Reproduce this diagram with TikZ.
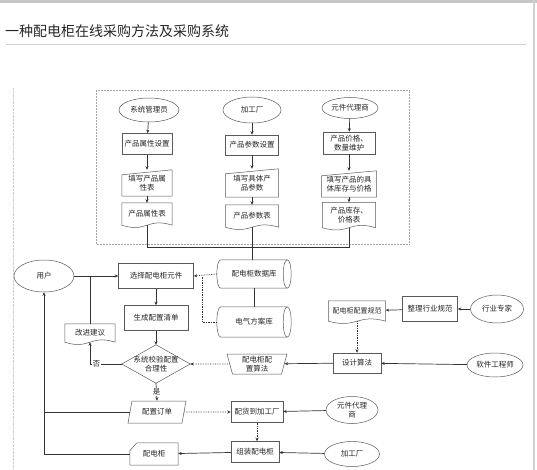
\documentclass[tikz,border=0pt]{standalone}
\usepackage{fontspec}
\setmainfont{Noto Sans CJK SC}
\usetikzlibrary{shapes.geometric,arrows.meta}

% outline helpers for the odd flowchart symbols
\newcommand{\wavedoc}[1]{\draw[shapeline] (#1.north west) -- (#1.north east) -- (#1.south east)
  .. controls ([yshift=8pt]#1.south) and ([yshift=-8pt]#1.south) .. (#1.south west) -- cycle;}
\newcommand{\slantdoc}[1]{\draw[shapeline] (#1.south west) -- ([yshift=-5pt]#1.north west)
  -- (#1.north east) -- (#1.south east) -- cycle;}
\newcommand{\cutcard}[1]{\draw[shapeline] (#1.south west) -- ([yshift=-8pt]#1.north west)
  -- ([xshift=7pt]#1.north west) -- (#1.north east) -- (#1.south east) -- cycle;}
\newcommand{\rhombus}[1]{\draw[shapeline] (#1.north) -- (#1.east) -- (#1.south) -- (#1.west) -- cycle;}
\newcommand{\drum}[1]{%
  \draw[shapeline] ([xshift=4pt]#1.north west) -- ([xshift=-4pt]#1.north east)
    .. controls ([xshift=1.3pt]#1.north east) and ([xshift=1.3pt]#1.south east) .. ([xshift=-4pt]#1.south east)
    -- ([xshift=4pt]#1.south west)
    .. controls ([xshift=-1.3pt]#1.south west) and ([xshift=-1.3pt]#1.north west) .. cycle;
  \draw[shapeline] ([xshift=-4pt]#1.north east)
    .. controls ([xshift=-9.3pt]#1.north east) and ([xshift=-9.3pt]#1.south east) .. ([xshift=-4pt]#1.south east);}

\tikzset{
  shapeline/.style={draw=black!65, line width=0.5pt},
  txt/.style={font=\fontsize{7.5}{9}\selectfont, text=black!85, align=center, inner sep=0pt},
  box/.style={txt, shapeline, minimum width=52pt, minimum height=21pt},
  paper/.style={txt, minimum width=52pt, minimum height=22pt},
  actor/.style={txt, shapeline, ellipse, minimum width=56pt, minimum height=24pt},
  drumnode/.style={txt, minimum width=74pt, minimum height=28pt},
  wire/.style={draw=black!80, line width=0.7pt},
  arr/.style={wire, ->},
  dotarr/.style={wire, densely dotted, ->},
  frame/.style={draw=black!35, densely dotted, line width=0.5pt},
}

\begin{document}
\begin{tikzpicture}[x=1pt, y=-1pt, >={Stealth[length=3.5pt,width=3pt]}]
  \useasboundingbox (0,0) rectangle (537,470);

  % page chrome
  \fill[black!22] (0,0) rectangle (537,3);
  \draw[black!18, line width=1.5pt] (534,0) -- (534,470);
  \node[anchor=west, font=\fontsize{14}{16}\selectfont, text=black!85, inner sep=0pt] (title) at (5,31) {一种配电柜在线采购方法及采购系统};
  \draw[black!18, line width=0.8pt] (6,44) -- (526,44);
  \draw[black!20, densely dotted] (13,88) -- (13,470);

  % upper block: product data entry
  \draw[frame] (96,90) rectangle (409,244);

  \node[actor, minimum width=60pt] (admin) at (149,110) {系统管理员};
  \node[box, minimum width=50pt] (attrset) at (147,144) {产品属性设置};
  \node[paper, minimum width=50pt, minimum height=26pt] (attrfill) at (147,183) {填写产品属\\性表};
  \node[paper, minimum width=50pt] (attrtab) at (147,214) {产品属性表};

  \node[actor, minimum width=58pt, minimum height=26pt] (plant) at (252,110) {加工厂};
  \node[box, minimum width=53pt, minimum height=20pt] (parset) at (252,145) {产品参数设置};
  \node[paper, minimum width=53pt, minimum height=28pt] (parfill) at (252,183) {填写具体产\\品参数};
  \node[paper, minimum width=53pt] (partab) at (252,216) {产品参数表};

  \node[actor, minimum height=21pt] (agent) at (350,108) {元件代理商};
  \node[box, minimum height=22pt] (priceset) at (349,143) {产品价格、\\数量维护};
  \node[paper, minimum width=55pt, minimum height=26pt] (pricefill) at (349,184) {填写产品的具\\体库存与价格};
  \node[paper, minimum width=53pt, minimum height=25pt] (pricetab) at (349,215) {产品库存、\\价格表};

  \slantdoc{attrfill} \slantdoc{parfill} \slantdoc{pricefill}
  \wavedoc{attrtab} \wavedoc{partab} \wavedoc{pricetab}

  \draw[arr] (admin) -- (attrset);
  \draw[arr] (attrset) -- (attrset |- attrfill.north);
  \draw[arr] (attrfill) -- (attrtab);
  \draw[arr] (plant) -- (parset);
  \draw[arr] (parset) -- (parfill);
  \draw[arr] (parfill) -- (partab);
  \draw[arr] (agent) -- (priceset);
  \draw[arr] (priceset) -- (pricefill);
  \draw[arr] (pricefill) -- (pricetab);

  % databases
  \node[drumnode] (db) at (254,274) {配电柜数据库};
  \node[drumnode, minimum height=30pt] (scheme) at (254,322) {电气方案库};
  \drum{db} \drum{scheme}
  \coordinate (merge) at (252,247);
  \draw[wire] (attrtab.south) |- (pricetab.south |- merge) -- (pricetab.south);
  \draw[wire] (partab.south) -- (partab.south |- db.north);
  \draw[wire] (db.south) -- (db.south |- scheme.north);

  % ordering loop
  \node[actor, minimum width=60pt, minimum height=32pt] (user) at (44,276) {用户};
  \node[box, minimum width=75pt, minimum height=25pt] (pick) at (156,276) {选择配电柜元件};
  \node[box, minimum width=64pt, minimum height=25pt] (list) at (156,318) {生成配置清单};
  \node[txt, minimum width=68pt, minimum height=38pt] (check) at (156,364) {系统校验配置\\合理性};
  \rhombus{check}
  \node[paper, minimum width=50pt, minimum height=18pt] (advice) at (90,333) {改进建议};
  \wavedoc{advice}
  \node[txt, shapeline, trapezium, trapezium left angle=60, trapezium right angle=120,
        trapezium stretches body, minimum width=58pt, minimum height=22pt] (order) at (157,412) {配置订单};
  \node[box, minimum height=21pt] (ship) at (257,412) {配货到加工厂};
  \node[box, minimum width=48pt] (build) at (255,452) {组装配电柜};
  \node[paper, minimum width=48pt, minimum height=22pt] (cabinet) at (154,454) {配电柜};
  \cutcard{cabinet}
  \node[actor, minimum width=52pt, minimum height=27pt] (agent2) at (352,410) {元件代理\\商};
  \node[actor, minimum width=55pt, minimum height=25pt] (plant2) at (352,454) {加工厂};

  \draw[arr] (user) -- (pick);
  \draw[arr] (pick) -- (list);
  \draw[arr] (list) -- (check.north);
  \draw[arr] (check.west) -| (advice.south) node[pos=0.4, fill=white, txt, inner sep=1pt] {否};
  \draw[wire] (advice.north) -- (advice.north |- pick.west);
  \draw[arr] (check.south) -- (order.north) node[midway, fill=white, txt, inner sep=1pt] {是};
  \draw[dotarr] (order) -- (ship);
  \draw[dotarr] (ship.south) -- (ship.south |- build.north);
  \draw[arr] (agent2) -- (ship);
  \draw[arr] (plant2) -- (build);
  \draw[arr] (build) -- (cabinet);
  \draw[arr] (cabinet.west) -| (user.south);
  \draw[wire] (order.west) -- (user.south |- order.west);

  % database feeds
  \coordinate (joint) at (202,276);
  \draw[dotarr] (db.west) -- (pick.east);
  \draw[wire, densely dotted] (scheme.west) -| (joint);

  % configuration rules
  \node[actor, minimum width=53pt, minimum height=28pt] (expert) at (497,309) {行业专家};
  \node[box, minimum width=55pt, minimum height=25pt] (tidy) at (430,309) {整理行业规范};
  \node[paper, minimum width=57pt, minimum height=20pt, font=\fontsize{7}{8}\selectfont] (rules) at (357,311) {配电柜配置规范};
  \wavedoc{rules}
  \node[box, minimum width=48pt, minimum height=20pt] (design) at (357,363) {设计算法};
  \node[actor, minimum width=56pt, minimum height=24pt] (coder) at (495,365) {软件工程师};
  \node[txt, shapeline, trapezium, trapezium angle=71, trapezium stretches body,
        shape border rotate=180, minimum width=60pt, minimum height=20pt] (algo) at (257,364) {配电柜配\\置算法};

  \draw[arr] (expert) -- (tidy);
  \draw[arr] (tidy) -- (rules);
  \draw[dotarr] (rules.south) -- (design);
  \draw[arr] (coder) -- (design);
  \draw[arr] (design) -- (algo);
  \draw[dotarr] (algo) -- (check.east);

\end{tikzpicture}
\end{document}
